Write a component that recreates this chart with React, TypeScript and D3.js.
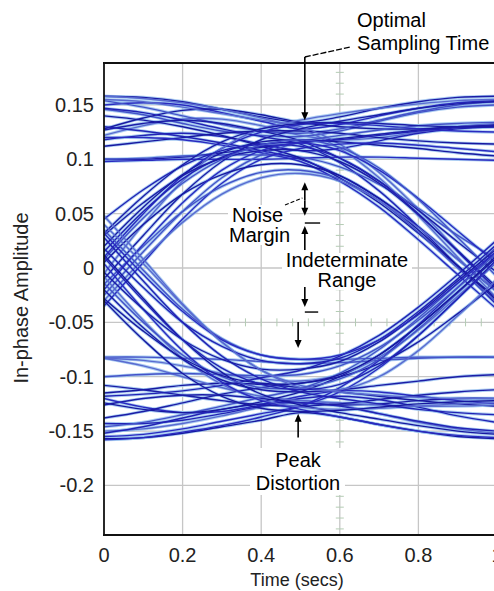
import React from "react";
import * as d3 from "d3";

// Sample instants across one symbol period (secs)
const sampleTimes = [0, 0.1, 0.2, 0.3, 0.4, 0.5, 0.6, 0.7, 0.8, 0.9, 1.0];

const xTicks = [0, 0.2, 0.4, 0.6, 0.8, 1];
const xTickLabels = ["0", "0.2", "0.4", "0.6", "0.8", "1"];
const yTicks = [0.15, 0.1, 0.05, 0, -0.05, -0.1, -0.15, -0.2];
const yTickLabels = ["0.15", "0.1", "0.05", "0", "-0.05", "-0.1", "-0.15", "-0.2"];

// Traces that stay on the upper rail through the whole period
const upperHold = [
  [0.158, 0.157, 0.153, 0.146, 0.139, 0.134, 0.139, 0.147, 0.153, 0.157, 0.158],
  [0.150, 0.152, 0.150, 0.143, 0.135, 0.128, 0.132, 0.140, 0.147, 0.152, 0.154],
  [0.146, 0.141, 0.133, 0.126, 0.122, 0.121, 0.126, 0.135, 0.143, 0.148, 0.150],
  [0.128, 0.138, 0.145, 0.146, 0.141, 0.134, 0.130, 0.128, 0.128, 0.130, 0.132],
  [0.122, 0.131, 0.137, 0.137, 0.131, 0.122, 0.118, 0.120, 0.125, 0.130, 0.133],
  [0.118, 0.122, 0.124, 0.121, 0.114, 0.108, 0.110, 0.117, 0.124, 0.128, 0.130],
  [0.100, 0.100, 0.102, 0.106, 0.111, 0.115, 0.119, 0.123, 0.127, 0.130, 0.131],
  [0.098, 0.099, 0.100, 0.100, 0.100, 0.101, 0.102, 0.102, 0.101, 0.100, 0.099],
  [0.154, 0.148, 0.140, 0.132, 0.126, 0.124, 0.128, 0.136, 0.144, 0.150, 0.153],
  [0.112, 0.116, 0.120, 0.124, 0.126, 0.126, 0.124, 0.120, 0.117, 0.115, 0.114],
];

// Upper rail, falling through the right-hand crossing
const upperFall = [
  [0.155, 0.153, 0.148, 0.142, 0.136, 0.130, 0.114, 0.088, 0.054, 0.016, -0.022],
  [0.147, 0.143, 0.136, 0.128, 0.121, 0.114, 0.097, 0.071, 0.038, 0.002, -0.034],
  [0.127, 0.133, 0.136, 0.133, 0.126, 0.117, 0.101, 0.080, 0.053, 0.024, -0.004],
  [0.120, 0.120, 0.118, 0.113, 0.106, 0.098, 0.080, 0.056, 0.026, -0.006, -0.038],
  [0.100, 0.101, 0.103, 0.104, 0.104, 0.102, 0.093, 0.077, 0.055, 0.030, 0.008],
  [0.140, 0.136, 0.130, 0.122, 0.112, 0.101, 0.083, 0.060, 0.032, 0.002, -0.028],
  [0.158, 0.156, 0.152, 0.146, 0.138, 0.128, 0.110, 0.083, 0.048, 0.010, -0.028],
  [0.130, 0.126, 0.121, 0.115, 0.108, 0.100, 0.085, 0.064, 0.038, 0.008, -0.022],
];

// Rising through the left-hand crossing, then holding high
const upperRise = [
  [-0.010, 0.030, 0.068, 0.098, 0.118, 0.128, 0.135, 0.141, 0.147, 0.151, 0.153],
  [0.010, 0.050, 0.085, 0.110, 0.125, 0.132, 0.133, 0.131, 0.128, 0.126, 0.125],
  [-0.025, 0.015, 0.052, 0.083, 0.104, 0.116, 0.122, 0.127, 0.131, 0.133, 0.134],
  [0.020, 0.056, 0.086, 0.106, 0.116, 0.118, 0.116, 0.113, 0.110, 0.106, 0.103],
  [-0.005, 0.040, 0.080, 0.110, 0.128, 0.136, 0.142, 0.147, 0.151, 0.154, 0.155],
  [0.045, 0.072, 0.094, 0.108, 0.114, 0.116, 0.118, 0.122, 0.126, 0.129, 0.130],
  [0.032, 0.066, 0.095, 0.116, 0.128, 0.133, 0.134, 0.133, 0.131, 0.130, 0.130],
  [-0.035, 0.005, 0.045, 0.078, 0.100, 0.110, 0.114, 0.115, 0.113, 0.110, 0.107],
];

// Single positive symbol: rise then fall
const upperPulse = [
  [-0.015, 0.020, 0.052, 0.075, 0.088, 0.090, 0.082, 0.062, 0.033, 0.000, -0.032],
  [0.005, 0.040, 0.068, 0.086, 0.095, 0.095, 0.085, 0.064, 0.035, 0.002, -0.030],
  [-0.030, 0.008, 0.042, 0.068, 0.083, 0.087, 0.080, 0.062, 0.037, 0.008, -0.022],
  [0.015, 0.052, 0.082, 0.102, 0.112, 0.112, 0.101, 0.080, 0.050, 0.015, -0.020],
  [0.030, 0.060, 0.085, 0.101, 0.108, 0.108, 0.098, 0.078, 0.049, 0.016, -0.018],
  [-0.020, 0.022, 0.060, 0.090, 0.108, 0.115, 0.108, 0.090, 0.064, 0.034, 0.004],
  [0.008, 0.046, 0.078, 0.100, 0.113, 0.118, 0.111, 0.092, 0.063, 0.028, -0.008],
];

// Traces that stay on the lower rail
const lowerHold = [
  [-0.157, -0.156, -0.152, -0.146, -0.140, -0.133, -0.137, -0.144, -0.150, -0.155, -0.157],
  [-0.150, -0.148, -0.143, -0.136, -0.128, -0.122, -0.126, -0.134, -0.142, -0.148, -0.152],
  [-0.143, -0.143, -0.140, -0.134, -0.127, -0.120, -0.118, -0.121, -0.128, -0.136, -0.142],
  [-0.126, -0.120, -0.117, -0.117, -0.120, -0.124, -0.126, -0.125, -0.122, -0.120, -0.120],
  [-0.120, -0.128, -0.133, -0.132, -0.126, -0.118, -0.113, -0.114, -0.118, -0.122, -0.125],
  [-0.082, -0.082, -0.083, -0.084, -0.086, -0.088, -0.087, -0.085, -0.083, -0.082, -0.082],
  [-0.115, -0.112, -0.108, -0.106, -0.107, -0.110, -0.114, -0.118, -0.122, -0.125, -0.127],
  [-0.083, -0.090, -0.100, -0.110, -0.118, -0.122, -0.124, -0.126, -0.127, -0.127, -0.126],
  [-0.152, -0.146, -0.138, -0.130, -0.125, -0.124, -0.127, -0.134, -0.141, -0.147, -0.150],
  [-0.108, -0.112, -0.117, -0.122, -0.126, -0.127, -0.125, -0.121, -0.117, -0.114, -0.112],
];

// Lower rail, rising through the right-hand crossing
const lowerRise = [
  [-0.155, -0.153, -0.148, -0.141, -0.134, -0.127, -0.114, -0.092, -0.062, -0.028, 0.006],
  [-0.146, -0.142, -0.135, -0.127, -0.119, -0.111, -0.097, -0.075, -0.046, -0.014, 0.020],
  [-0.124, -0.130, -0.133, -0.130, -0.123, -0.114, -0.100, -0.080, -0.053, -0.022, 0.012],
  [-0.083, -0.085, -0.090, -0.097, -0.102, -0.104, -0.098, -0.082, -0.057, -0.026, 0.006],
  [-0.118, -0.116, -0.113, -0.108, -0.101, -0.094, -0.081, -0.062, -0.036, -0.006, 0.026],
  [-0.138, -0.132, -0.124, -0.116, -0.110, -0.106, -0.100, -0.088, -0.068, -0.042, -0.014],
  [-0.158, -0.156, -0.151, -0.145, -0.137, -0.127, -0.110, -0.085, -0.052, -0.018, 0.016],
  [-0.100, -0.098, -0.097, -0.098, -0.099, -0.098, -0.090, -0.073, -0.048, -0.018, 0.014],
];

// Falling through the left-hand crossing, then holding low
const lowerFall = [
  [0.012, -0.028, -0.066, -0.096, -0.116, -0.126, -0.133, -0.139, -0.145, -0.150, -0.153],
  [-0.008, -0.048, -0.083, -0.107, -0.121, -0.128, -0.130, -0.129, -0.127, -0.125, -0.124],
  [0.028, -0.012, -0.050, -0.081, -0.102, -0.114, -0.120, -0.125, -0.130, -0.133, -0.135],
  [-0.020, -0.055, -0.084, -0.103, -0.112, -0.114, -0.112, -0.108, -0.104, -0.100, -0.098],
  [0.004, -0.038, -0.076, -0.105, -0.122, -0.130, -0.137, -0.144, -0.150, -0.154, -0.156],
  [0.035, -0.002, -0.038, -0.065, -0.080, -0.084, -0.084, -0.083, -0.082, -0.082, -0.082],
  [-0.030, -0.066, -0.097, -0.118, -0.129, -0.132, -0.131, -0.128, -0.125, -0.123, -0.122],
  [0.048, 0.008, -0.033, -0.068, -0.094, -0.108, -0.114, -0.117, -0.119, -0.120, -0.120],
];

// Single negative symbol: fall then rise
const lowerPulse = [
  [0.018, -0.018, -0.050, -0.072, -0.085, -0.088, -0.083, -0.066, -0.040, -0.010, 0.022],
  [-0.004, -0.038, -0.066, -0.084, -0.093, -0.093, -0.086, -0.068, -0.042, -0.012, 0.018],
  [0.032, -0.006, -0.040, -0.066, -0.080, -0.084, -0.080, -0.066, -0.043, -0.014, 0.016],
  [-0.014, -0.050, -0.080, -0.100, -0.110, -0.110, -0.102, -0.084, -0.056, -0.023, 0.010],
  [-0.028, -0.058, -0.083, -0.099, -0.106, -0.106, -0.098, -0.080, -0.053, -0.022, 0.010],
  [0.040, 0.004, -0.034, -0.068, -0.094, -0.110, -0.112, -0.100, -0.076, -0.044, -0.010],
  [0.010, -0.030, -0.066, -0.092, -0.107, -0.112, -0.107, -0.090, -0.062, -0.028, 0.008],
];

const traceGroups = [upperHold, upperFall, upperRise, upperPulse, lowerHold, lowerRise, lowerFall, lowerPulse];
const traceTones = ["#1c1ca6", "#2a2ac0", "#4452c8", "#1818a0", "#5a6ad0", "#2222b4"];

const W = 494;
const H = 591;
const FONT = "'Liberation Sans', Arial, sans-serif";

const x = d3.scaleLinear().domain([0, 1]).range([104, 497]);
const y = d3.scaleLinear().domain([-0.2456, 0.1886]).range([535, 63]);

const line = d3
  .line<number>()
  .x((_, i) => x(sampleTimes[i]))
  .y((v) => y(v))
  .curve(d3.curveCatmullRom.alpha(0.5));

function Arrow({ t, from, to }: { t: number; from: number; to: number }) {
  // vertical arrow in data coordinates, head at "to"
  const px = x(t);
  const y0 = y(from);
  const y1 = y(to);
  const dir = y1 > y0 ? 1 : -1;
  const head = 8;
  return (
    <g>
      <line x1={px} y1={y0} x2={px} y2={y1 - dir * head * 0.6} stroke="#000" strokeWidth={1.6} />
      <path
        d={`M${px},${y1} L${px - 3.5},${y1 - dir * head} L${px + 3.5},${y1 - dir * head} Z`}
        fill="#000"
      />
    </g>
  );
}

function Label({ x0, y0, text, anchor = "start" }: { x0: number; y0: number; text: string; anchor?: string }) {
  return (
    <text x={x0} y={y0} textAnchor={anchor} fontSize={20} fontFamily={FONT} fill="#000">
      {text}
    </text>
  );
}

export default function App() {
  const minorY = d3.range(-0.24, 0.185, 0.01);
  const minorX = d3.range(0.32, 1, 0.04);
  const traces = traceGroups.flat();
  return (
    <svg
      width={W}
      height={H}
      style={{ position: "absolute", left: 0, top: 0, background: "#fff" }}
    >
      <defs>
        <clipPath id="plotArea">
          <rect x={104} y={63} width={393} height={472} />
        </clipPath>
      </defs>

      {/* grid */}
      <g stroke="#c6c6c6" strokeWidth={1.3}>
        {xTicks.slice(1, -1).map((t) => (
          <line key={`gx${t}`} x1={x(t)} x2={x(t)} y1={63} y2={535} />
        ))}
        {yTicks.map((v) => (
          <line key={`gy${v}`} x1={104} x2={497} y1={y(v)} y2={y(v)} />
        ))}
      </g>
      <g stroke="#b4ccb4" strokeWidth={1}>
        {minorY.map((v) => (
          <line key={`my${v}`} x1={x(0.6) - 4} x2={x(0.6) + 4} y1={y(v)} y2={y(v)} />
        ))}
        {minorX.map((t) => (
          <line key={`mx${t}`} x1={x(t)} x2={x(t)} y1={y(-0.05) - 4} y2={y(-0.05) + 4} />
        ))}
      </g>

      {/* eye traces */}
      <g clipPath="url(#plotArea)" fill="none">
        {traces.map((tr, i) => (
          <path key={`h${i}`} d={line(tr) || ""} stroke="#8fbcee" strokeWidth={3.2} opacity={0.75} />
        ))}
        {traces.map((tr, i) => (
          <path key={`t${i}`} d={line(tr) || ""} stroke={traceTones[i % traceTones.length]} strokeWidth={1.4} />
        ))}
      </g>

      {/* axes frame */}
      <g stroke="#111" fill="none">
        <line x1={104} x2={104} y1={62} y2={536} strokeWidth={1.8} />
        <line x1={103} x2={W} y1={535} y2={535} strokeWidth={1.8} />
        <line x1={103} x2={W} y1={63} y2={63} strokeWidth={2} />
      </g>

      {/* tick labels */}
      <g fontFamily={FONT} fontSize={20} fill="#222">
        {yTicks.map((v, i) => (
          <text key={`yl${v}`} x={94} y={y(v) + 7} textAnchor="end">
            {yTickLabels[i]}
          </text>
        ))}
        {xTicks.map((t, i) => (
          <text key={`xl${t}`} x={x(t)} y={562} textAnchor="middle">
            {xTickLabels[i]}
          </text>
        ))}
      </g>
      <text x={297} y={586} textAnchor="middle" fontFamily={FONT} fontSize={18} fill="#222">
        Time (secs)
      </text>
      <text
        transform="translate(28,298) rotate(-90)"
        textAnchor="middle"
        fontFamily={FONT}
        fontSize={20}
        fill="#222"
      >
        In-phase Amplitude
      </text>

      {/* annotations */}
      <Label x0={357} y0={27} text="Optimal" />
      <Label x0={357} y0={50} text="Sampling Time" />
      <line
        x1={x(0.511)}
        y1={57}
        x2={350}
        y2={47}
        stroke="#000"
        strokeWidth={1.3}
        strokeDasharray="6 2"
      />
      <Arrow t={0.511} from={y.invert(57)} to={0.136} />

      <rect x={228} y={205} width={62} height={40} fill="#fff" />
      <Label x0={232} y0={222} text="Noise" />
      <Label x0={229} y0={242} text="Margin" />
      <line
        x1={285}
        y1={205}
        x2={x(0.505)}
        y2={198}
        stroke="#000"
        strokeWidth={1.1}
        strokeDasharray="4 2"
      />
      <Arrow t={0.511} from={0.062} to={0.079} />
      <Arrow t={0.511} from={0.062} to={0.048} />
      <line x1={x(0.511)} x2={x(0.55)} y1={y(0.0414)} y2={y(0.0414)} stroke="#000" strokeWidth={1.4} />
      <Arrow t={0.511} from={0.0166} to={0.0386} />

      <rect x={282} y={253} width={130} height={37} fill="#fff" />
      <Label x0={347} y0={267} text="Indeterminate" anchor="middle" />
      <Label x0={347} y0={287} text="Range" anchor="middle" />
      <Arrow t={0.511} from={-0.0175} to={-0.0359} />
      <line x1={x(0.511)} x2={x(0.545)} y1={y(-0.0405)} y2={y(-0.0405)} stroke="#000" strokeWidth={1.4} />
      <Arrow t={0.494} from={-0.0497} to={-0.0736} />

      <Arrow t={0.494} from={-0.156} to={-0.134} />
      <rect x={250} y={448} width={95} height={47} fill="#fff" />
      <Label x0={298} y0={467} text="Peak" anchor="middle" />
      <Label x0={298} y0={490} text="Distortion" anchor="middle" />
    </svg>
  );
}
